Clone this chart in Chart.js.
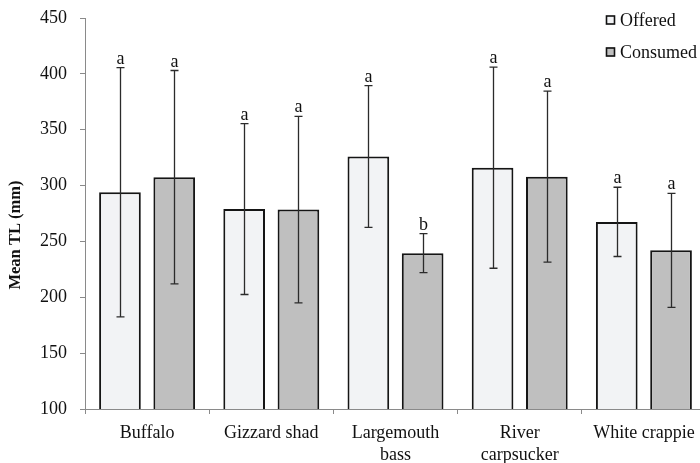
<!DOCTYPE html>
<html>
<head>
<meta charset="utf-8">
<script src="https://cdn.jsdelivr.net/npm/chart.js@4/dist/chart.umd.min.js"></script>
<style>
  html, body { margin: 0; padding: 0; background: #fff; overflow: hidden; }
  #wrap { width: 700px; height: 463px; overflow: hidden; }
</style>
</head>
<body>
<div id="wrap"><canvas id="chart" width="712" height="463"></canvas></div>
<script>
// Prey species (multi-line labels as arrays)
const species = ['Buffalo', 'Gizzard shad', ['Largemouth', 'bass'], ['River', 'carpsucker'], 'White crappie'];

// Mean total length (mm) and standard deviation
const offeredMean = [294, 279, 326, 316, 267.5];
const offeredSD   = [111.5, 76.5, 63.5, 90, 31];
const consumedMean = [307.5, 278.5, 239.5, 308, 242];
const consumedSD   = [95.5, 83.5, 17.5, 76.5, 51];

// Significance letters above each error bar
const offeredLetters  = ['a', 'a', 'a', 'a', 'a'];
const consumedLetters = ['a', 'a', 'b', 'a', 'a'];

// Y axis range and title
const yMin = 100, yMax = 450, yStep = 50;
const yTitle = 'Mean TL (mm)';

const SERIF = '"Liberation Serif", "Times New Roman", serif';
const AXIS_GRAY = '#8a8a8a';

// Error bars (mean ± SD) with letters above the upper cap
const errorBars = {
  id: 'errorBars',
  afterDatasetsDraw(chart) {
    const ctx = chart.ctx;
    const yScale = chart.scales.y;
    chart.data.datasets.forEach((ds, i) => {
      const meta = chart.getDatasetMeta(i);
      meta.data.forEach((bar, j) => {
        const m = ds.data[j], sd = ds.sd[j];
        const x = Math.round(bar.x) + 0.5;
        const yHi = yScale.getPixelForValue(m + sd);
        const yLo = yScale.getPixelForValue(m - sd);
        ctx.save();
        ctx.strokeStyle = '#2b2b2b';
        ctx.lineWidth = 1.3;
        ctx.beginPath();
        ctx.moveTo(x, yHi); ctx.lineTo(x, yLo);
        ctx.moveTo(x - 4, yHi); ctx.lineTo(x + 4, yHi);
        ctx.moveTo(x - 4, yLo); ctx.lineTo(x + 4, yLo);
        ctx.stroke();
        ctx.fillStyle = '#111';
        ctx.font = '18px ' + SERIF;
        ctx.textAlign = 'center';
        ctx.textBaseline = 'alphabetic';
        ctx.fillText(ds.letters[j], x, yHi - 4);
        ctx.restore();
      });
    });
  }
};

// Rotated y-axis title and vertical legend in the upper right corner
const annotations = {
  id: 'annotations',
  afterDraw(chart) {
    const ctx = chart.ctx;
    ctx.save();
    ctx.translate(15.5, 235);
    ctx.rotate(-Math.PI / 2);
    ctx.fillStyle = '#111';
    ctx.font = 'bold 16.5px ' + SERIF;
    ctx.textAlign = 'center';
    ctx.textBaseline = 'middle';
    ctx.fillText(yTitle, 0, 0);
    ctx.restore();

    const rows = [20, 52];
    chart.data.datasets.forEach((ds, i) => {
      const cy = rows[i];
      ctx.save();
      ctx.fillStyle = ds.backgroundColor;
      ctx.fillRect(606, cy - 4.5, 9, 9);
      ctx.strokeStyle = '#111';
      ctx.lineWidth = 1.6;
      ctx.strokeRect(606.5, cy - 4, 8, 8);
      ctx.fillStyle = '#111';
      ctx.font = '18px ' + SERIF;
      ctx.textAlign = 'left';
      ctx.textBaseline = 'middle';
      ctx.fillText(ds.label, 620, cy + 1);
      ctx.restore();
    });
  }
};

new Chart(document.getElementById('chart'), {
  type: 'bar',
  data: {
    labels: species,
    datasets: [
      { label: 'Offered', data: offeredMean, sd: offeredSD, letters: offeredLetters,
        backgroundColor: '#f2f3f5', borderColor: '#151515', borderWidth: 2,
        categoryPercentage: 0.874, barPercentage: 0.768 },
      { label: 'Consumed', data: consumedMean, sd: consumedSD, letters: consumedLetters,
        backgroundColor: '#bfbfbf', borderColor: '#151515', borderWidth: 2,
        categoryPercentage: 0.874, barPercentage: 0.768 }
    ]
  },
  options: {
    responsive: false,
    animation: false,
    layout: { padding: { top: 18, right: 6, left: 0, bottom: 0 } },
    plugins: { legend: { display: false }, tooltip: { enabled: false } },
    scales: {
      x: {
        offset: true,
        grid: { offset: true, drawOnChartArea: false, drawTicks: true, tickLength: 5, color: AXIS_GRAY },
        border: { color: AXIS_GRAY, width: 1 },
        ticks: { color: '#111', font: { family: SERIF, size: 18, lineHeight: 1.22 }, padding: 8, maxRotation: 0, autoSkip: false },
        afterFit(scale) { scale.height = 54; scale.paddingLeft = 0; scale.paddingRight = 0; }
      },
      y: {
        min: yMin, max: yMax,
        grid: { drawOnChartArea: false, drawTicks: true, tickLength: 5, color: AXIS_GRAY },
        border: { color: AXIS_GRAY, width: 1 },
        ticks: { stepSize: yStep, color: '#111', font: { family: SERIF, size: 18 }, padding: 13 },
        afterFit(scale) { scale.width = 85; scale.paddingTop = 0; scale.paddingBottom = 0; }
      }
    }
  },
  plugins: [errorBars, annotations]
});
</script>
</body>
</html>
